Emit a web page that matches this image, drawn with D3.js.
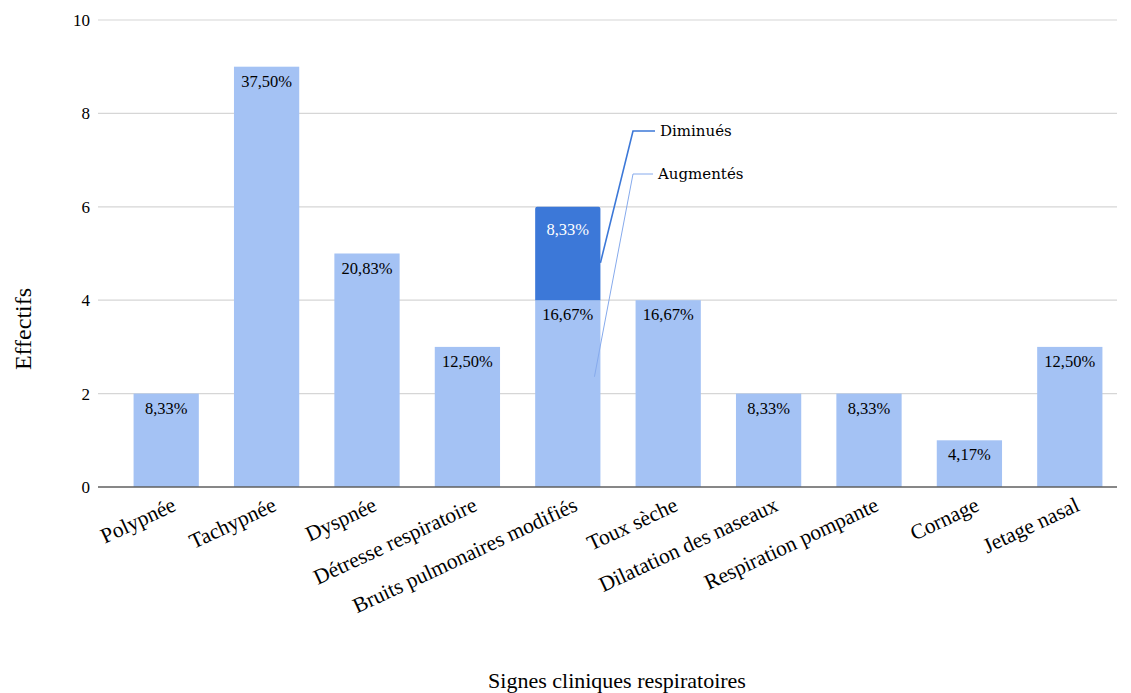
<!DOCTYPE html>
<html>
<head>
<meta charset="utf-8">
<script src="https://cdn.jsdelivr.net/npm/d3@7"></script>
<style>
  html, body { margin: 0; padding: 0; background: #fff; }
  svg { display: block; }
  text { font-family: "Liberation Serif", "Times New Roman", serif; fill: #000; }
</style>
</head>
<body>
<svg id="chart" width="1131" height="693"></svg>
<script>
// Respiratory clinical signs: counts per sign, with percentage labels
const categories = [
  "Polypnée", "Tachypnée", "Dyspnée", "Détresse respiratoire",
  "Bruits pulmonaires modifiés", "Toux sèche", "Dilatation des naseaux",
  "Respiration pompante", "Cornage", "Jetage nasal"
];
// "Augmentés" is the base series; "Diminués" only applies to lung sounds
const baseValues = [2, 9, 5, 3, 4, 4, 2, 2, 1, 3];
const baseLabels = ["8,33%", "37,50%", "20,83%", "12,50%", "16,67%", "16,67%", "8,33%", "8,33%", "4,17%", "12,50%"];
const stackValues = [0, 0, 0, 0, 2, 0, 0, 0, 0, 0];
const stackLabels = ["", "", "", "", "8,33%", "", "", "", "", ""];
const yTicks = [0, 2, 4, 6, 8, 10];
const seriesNames = ["Diminués", "Augmentés"];

const colorBase = "#a4c2f4";
const colorStack = "#3c78d8";

const svg = d3.select("#chart");

const x = d3.scaleBand()
  .domain(categories)
  .range([116, 1120])
  .paddingInner(0.35)
  .paddingOuter(0.175);

const y = d3.scaleLinear().domain([0, 10]).range([487, 20]);

const gridLeft = 98, gridRight = 1117;

// horizontal gridlines
svg.append("g")
  .selectAll("line")
  .data(yTicks.filter(d => d !== 0))
  .join("line")
  .attr("x1", gridLeft).attr("x2", gridRight)
  .attr("y1", d => y(d)).attr("y2", d => y(d))
  .attr("stroke", "#d6d6d6").attr("stroke-width", 1.2);

// y tick labels
svg.append("g")
  .selectAll("text")
  .data(yTicks)
  .join("text")
  .attr("x", 90)
  .attr("y", d => y(d))
  .attr("dy", "0.35em")
  .attr("text-anchor", "end")
  .style("font-size", "17px")
  .text(d => d);

const rows = categories.map((c, i) => ({
  cat: c, base: baseValues[i], baseLabel: baseLabels[i],
  stack: stackValues[i], stackLabel: stackLabels[i]
}));

// base bars
svg.append("g")
  .selectAll("rect")
  .data(rows)
  .join("rect")
  .attr("x", d => x(d.cat))
  .attr("width", x.bandwidth())
  .attr("y", d => y(d.base))
  .attr("height", d => y(0) - y(d.base))
  .attr("fill", colorBase);

// stacked segment on top
const stacked = rows.filter(d => d.stack > 0);
svg.append("g")
  .selectAll("path")
  .data(stacked)
  .join("path")
  .attr("fill", colorStack)
  .attr("d", d => {
    const x0 = x(d.cat), x1 = x0 + x.bandwidth();
    const yTop = y(d.base + d.stack), yBot = y(d.base), r = 2;
    return `M${x0},${yBot}V${yTop + r}Q${x0},${yTop} ${x0 + r},${yTop}` +
           `H${x1 - r}Q${x1},${yTop} ${x1},${yTop + r}V${yBot}Z`;
  });

// value labels
svg.append("g")
  .selectAll("text")
  .data(rows)
  .join("text")
  .attr("x", d => x(d.cat) + x.bandwidth() / 2)
  .attr("y", d => y(d.base) + 20)
  .attr("text-anchor", "middle")
  .style("font-size", "16.5px")
  .text(d => d.baseLabel);

svg.append("g")
  .selectAll("text")
  .data(stacked)
  .join("text")
  .attr("x", d => x(d.cat) + x.bandwidth() / 2)
  .attr("y", d => y(d.base + d.stack) + 28)
  .attr("text-anchor", "middle")
  .style("font-size", "16.5px")
  .style("fill", "#fff")
  .text(d => d.stackLabel);

// baseline axis
svg.append("line")
  .attr("x1", gridLeft).attr("x2", gridRight)
  .attr("y1", y(0)).attr("y2", y(0))
  .attr("stroke", "#5f5f5f").attr("stroke-width", 1.6);

// rotated category labels
svg.append("g")
  .selectAll("text")
  .data(categories)
  .join("text")
  .attr("text-anchor", "end")
  .attr("transform", d => `translate(${x(d) + x.bandwidth() / 2 + 11},${y(0) + 23}) rotate(-25)`)
  .style("font-size", "21.5px")
  .text(d => d);

// axis titles
svg.append("text")
  .attr("x", 617).attr("y", 688)
  .attr("text-anchor", "middle")
  .style("font-size", "22px")
  .text("Signes cliniques respiratoires");

svg.append("text")
  .attr("transform", "translate(31,329) rotate(-90)")
  .attr("text-anchor", "middle")
  .style("font-size", "24px")
  .text("Effectifs");

// series callouts pointing into the stacked bar
const target = stacked[0];
const bx = x(target.cat) + x.bandwidth();
const callouts = [
  { name: seriesNames[0], color: colorStack, width: 1.6,
    from: [bx, y(target.base + target.stack * 0.4)], elbow: 131, tx: 660 },
  { name: seriesNames[1], color: "#86aaec", width: 1,
    from: [bx - 6, y(target.base * 0.59)], elbow: 174, tx: 658 }
];
callouts.forEach(c => {
  svg.append("path")
    .attr("fill", "none")
    .attr("stroke", c.color)
    .attr("stroke-width", c.width)
    .attr("d", `M${c.from[0]},${c.from[1]}L633,${c.elbow}H${c.tx - 5}`);
  svg.append("text")
    .attr("x", c.tx).attr("y", c.elbow)
    .attr("dy", "0.35em")
    .style("font-family", "'DejaVu Serif', serif")
    .style("font-size", "15px")
    .text(c.name);
});
</script>
</body>
</html>
